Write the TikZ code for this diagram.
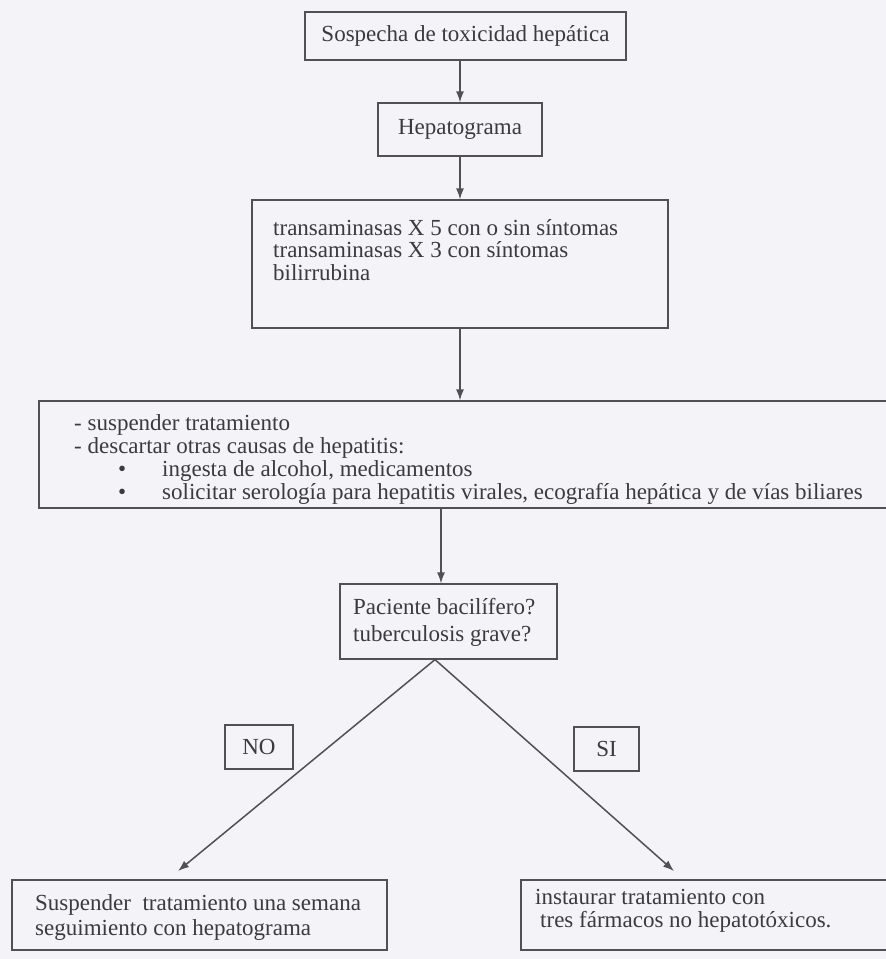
\documentclass[tikz,border=0pt]{standalone}
\usepackage{fontspec}
\setmainfont{Liberation Serif}
\usetikzlibrary{arrows.meta}
\definecolor{bg}{HTML}{F4F3F8}
\definecolor{ink}{HTML}{3A3A42}
\definecolor{edge}{HTML}{505058}
\begin{document}
\begin{tikzpicture}[x=1pt,y=-1pt,
  box/.style={draw=edge,line width=1.2pt,inner sep=0pt,text=ink,font=\fontsize{23}{25}\selectfont},
  txt/.style={text=ink,inner sep=0pt,align=left,anchor=north west},
  arr/.style={draw=edge,line width=1.5pt,-{Latex[length=11pt,width=8pt]}},
  lin/.style={draw=edge,line width=1.3pt}]
\fill[bg] (0,0) rectangle (886,959);
\useasboundingbox (0,0) rectangle (886,959);

% boxes
\node[box,minimum width=321pt,minimum height=48pt] (b1) at (465.5,36) {Sospecha de toxicidad hepática};
\node[box,minimum width=164pt,minimum height=53pt] (b2) at (460,129.5) {Hepatograma};
\node[box,minimum width=416pt,minimum height=128pt] (b3) at (460,264) {};
\node[box,minimum width=861pt,minimum height=107pt] (b4) at (469.5,454.5) {};
\node[box,minimum width=217pt,minimum height=75pt] (b5) at (448.5,621.5) {};
\node[box,minimum width=68pt,minimum height=44pt] (no) at (259,747) {NO};
\node[box,minimum width=65pt,minimum height=44pt] (si) at (606.5,749) {SI};
\node[box,minimum width=375pt,minimum height=70pt] (bl) at (199.5,915) {};
\node[box,minimum width=380pt,minimum height=70pt] (br) at (711,915) {};

% texts
\node[txt,font=\fontsize{23}{22.5}\selectfont] (t3) at (273,219) {transaminasas X 5 con o sin síntomas\\transaminasas X 3 con síntomas\\bilirrubina};
\node[txt,font=\fontsize{23}{23}\selectfont] (t4a) at (74,414) {- suspender tratamiento\\- descartar otras causas de hepatitis:};
\node[txt,font=\fontsize{23}{23}\selectfont] (t4b) at (118,460) {\makebox[44pt][l]{\textbullet}ingesta de alcohol, medicamentos\\\makebox[44pt][l]{\textbullet}solicitar serología para hepatitis virales, ecografía hepática y de vías biliares};
\node[txt,font=\fontsize{23}{27}\selectfont] (t5) at (353,598) {Paciente bacilífero?\\tuberculosis grave?};
\node[txt,font=\fontsize{23}{25}\selectfont] (tl) at (35,894) {Suspender\ \ tratamiento una semana\\seguimiento con hepatograma};
\node[txt,font=\fontsize{23}{23}\selectfont] (tr) at (535,889) {instaurar tratamiento con\\\hspace{5pt}tres fármacos no hepatotóxicos.};

% connectors
\coordinate (c4) at (441,0);
\coordinate (apex) at (435,659);
\coordinate (tipL) at (178,871);
\coordinate (tipR) at (674,871);
\draw[arr] (b1.south -| b2.north) -- (b2.north);
\draw[arr] (b2.south) -- (b3.north);
\draw[arr] (b3.south) -- (b3.south |- b4.north);
\draw[arr] (b4.south -| c4) -- (b5.north -| c4);
\draw[arr] (b5.south -| apex) -- (tipL);
\draw[arr] (b5.south -| apex) -- (tipR);
\end{tikzpicture}
\end{document}
